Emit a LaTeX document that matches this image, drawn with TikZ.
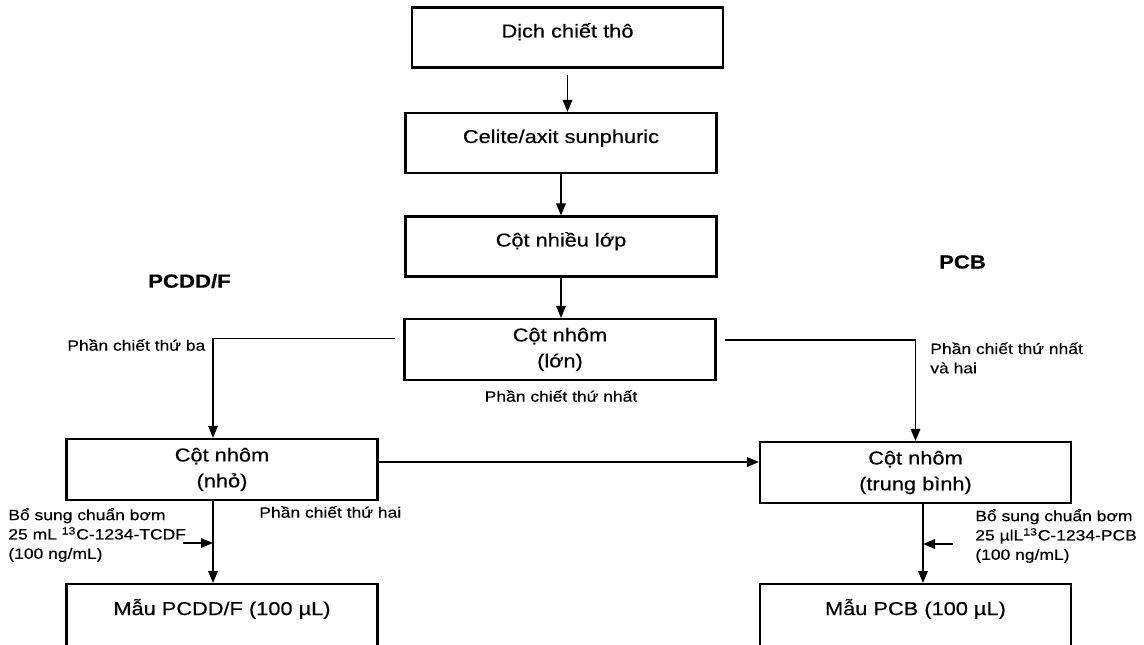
\documentclass[tikz,border=0pt]{standalone}
\usepackage{fontspec}
\setmainfont{Liberation Sans}[FakeStretch=1.17, FakeBold=0.4]
\usetikzlibrary{arrows.meta}

\begin{document}
\begin{tikzpicture}[x=0.02cm, y=-0.02cm,
    stage/.style={draw, line width=1.2pt, inner sep=0pt, minimum width=6.22cm, text height=0.6cm, text depth=0.6cm, font=\fontsize{10.6}{14.7}\selectfont},
    column/.style={draw, line width=1.2pt, inner sep=0pt, minimum width=6.22cm, minimum height=1.22cm, align=center, font=\fontsize{10.6}{14.7}\selectfont},
    sample/.style={draw, line width=1.2pt, inner sep=0pt, minimum width=6.22cm, text height=0.62cm, text depth=1cm, anchor=north, font=\fontsize{10.6}{14.7}\selectfont},
    note/.style={inner sep=0pt, anchor=west, align=left, font=\fontsize{8.5}{11}\selectfont},
    group/.style={inner sep=0pt, font=\fontsize{10.8}{12}\selectfont\bfseries},
    flow/.style={-{Triangle[length=0.24cm,width=0.19cm]}, line width=1pt}]
    \useasboundingbox (0,0) rectangle (1144,645);
    \clip (0,0) rectangle (1144,645);

    % main column
    \node[stage] (dich) at (567.5,37.5) {Dịch chiết thô};
    \node[stage] (celite) at (561,143) {Celite/axit sunphuric};
    \node[stage] (nhieu) at (561,246.5) {Cột nhiều lớp};
    \node[column] (lon) at (560,349.5) {Cột nhôm\\(lớn)};
    \node[column] (nho) at (222,469.5) {Cột nhôm\\(nhỏ)};
    \node[column] (trung) at (915.5,472.5) {Cột nhôm\\(trung bình)};
    \node[sample] (mau1) at (222,583) {Mẫu PCDD/F (100 µL)};
    \node[sample] (mau2) at (915.5,583) {Mẫu PCB (100 µL)};

    \node[group] (pcdd) at (189.5,281) {PCDD/F};
    \node[group] (pcb) at (962.5,262) {PCB};

    \node[note] (ba) at (67,345) {Phần chiết thứ ba};
    \node[note] (nhat) at (930,358) {Phần chiết thứ nhất\\và hai};
    \node[note, anchor=center] (mot) at (561,396) {Phần chiết thứ nhất};
    \node[note] (hai) at (259,512) {Phần chiết thứ hai};
    \node[note] (chuanA) at (8,535) {Bổ sung chuẩn bơm\\25 mL \textsuperscript{13}C-1234-TCDF\\(100 ng/mL)};
    \node[note] (chuanB) at (975,536) {Bổ sung chuẩn bơm\\25 µlL\textsuperscript{13}C-1234-PCB\\(100 ng/mL)};

    \draw[flow, shorten <=0.12cm] (dich.south) -- (dich.south |- celite.north);
    \draw[flow] (celite.south) -- (celite.south |- nhieu.north);
    \draw[flow] (nhieu.south) -- (nhieu.south |- lon.north);
    \draw[flow, shorten <=0.16cm] ([yshift=0.22cm]lon.west) -| ([xshift=-0.18cm]nho.north);
    \draw[flow, shorten <=0.16cm] ([yshift=0.19cm]lon.east) -| (trung.north);
    \draw[flow] ([yshift=0.15cm]nho.east) -- ([yshift=0.15cm]nho.east -| trung.west);
    \draw[flow] ([xshift=-0.18cm]nho.south) -- ([xshift=-0.18cm]mau1.north);
    \draw[flow] ([xshift=0.15cm]trung.south) -- ([xshift=0.15cm]mau2.north);

    \coordinate (dl) at ([xshift=-0.18cm]mau1.north);
    \coordinate (dr) at ([xshift=0.15cm]mau2.north);
    \coordinate (inA) at (183,543);
    \coordinate (inB) at (953,544);
    \draw[flow] (inA) -- (inA -| dl);
    \draw[flow] (inB) -- (inB -| dr);
\end{tikzpicture}
\end{document}
